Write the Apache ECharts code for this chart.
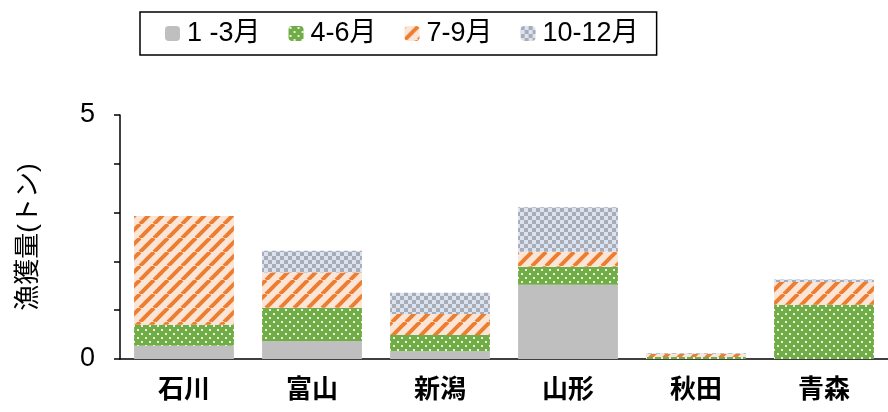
<!DOCTYPE html>
<html>
<head>
<meta charset="utf-8">
<script src="https://cdn.jsdelivr.net/npm/echarts@6/dist/echarts.min.js"></script>
<style>
  html, body { margin: 0; padding: 0; background: #fff; }
  #container { width: 888px; height: 412px; }
</style>
</head>
<body>
<div id="container"></div>
<script>
const categories = ['石川', '富山', '新潟', '山形', '秋田', '青森'];
const seriesNames = ['1 -3月', '4-6月', '7-9月', '10-12月'];
const q1 = [0.27, 0.37, 0.16, 1.52, 0.00, 0.00];
const q2 = [0.43, 0.68, 0.33, 0.37, 0.04, 1.11];
const q3 = [2.23, 0.72, 0.43, 0.31, 0.06, 0.47];
const q4 = [0.00, 0.45, 0.44, 0.91, 0.02, 0.05];
const yTickLabels = ['0', '5'];

const FONT = '"Liberation Sans", Arial, "Noto Sans CJK JP", sans-serif';

// パターン画像
function makeTile(w, h, draw) {
  const c = document.createElement('canvas');
  c.width = w; c.height = h;
  draw(c.getContext('2d'), w, h);
  return { image: c, repeat: 'repeat' };
}

const dotsGreen = makeTile(8, 8, (ctx, w, h) => {
  ctx.fillStyle = '#70AD47';
  ctx.fillRect(0, 0, w, h);
  ctx.fillStyle = '#e8f3df';
  ctx.fillRect(1, 1, 2, 2);
  ctx.fillRect(5, 5, 2, 2);
});

const stripeOrange = makeTile(14, 14, (ctx, w, h) => {
  ctx.fillStyle = '#FBE5D6';
  ctx.fillRect(0, 0, w, h);
  ctx.strokeStyle = '#ED7D31';
  ctx.lineWidth = 4;
  for (let k = -1; k <= 1; k++) {
    ctx.beginPath();
    ctx.moveTo(k * w, h);
    ctx.lineTo(k * w + w, 0);
    ctx.stroke();
  }
});

const checkBlue = makeTile(8, 8, (ctx, w, h) => {
  ctx.fillStyle = '#DAE3F3';
  ctx.fillRect(0, 0, w, h);
  ctx.fillStyle = '#A9ADB3';
  ctx.fillRect(0, 0, 4, 4);
  ctx.fillRect(4, 4, 4, 4);
});

const fills = ['#BFBFBF', dotsGreen, stripeOrange, checkBlue];
const dataSets = [q1, q2, q3, q4];

const chart = echarts.init(document.getElementById('container'));
chart.setOption({
  animation: false,
  textStyle: { fontFamily: FONT },
  legend: {
    top: 12,
    left: 140,
    data: seriesNames,
    itemWidth: 15,
    itemHeight: 15,
    itemGap: 28,
    padding: [8, 18, 8, 25],
    borderColor: '#000',
    borderWidth: 1.5,
    borderRadius: 0,
    textStyle: { fontSize: 27, color: '#000', fontFamily: FONT, padding: [0, 0, 0, 2] }
  },
  grid: { left: 120, top: 115, width: 775, bottom: 53 },
  xAxis: {
    type: 'category',
    data: categories,
    axisLine: { lineStyle: { color: '#000', width: 1.5 } },
    axisTick: { length: 6, lineStyle: { color: '#000', width: 1.5 } },
    axisLabel: { fontSize: 26, color: '#000', margin: 19, fontWeight: 'bold', fontFamily: FONT }
  },
  yAxis: {
    type: 'value',
    min: 0,
    max: 5,
    interval: 1,
    name: '漁獲量(トン)',
    nameLocation: 'middle',
    nameRotate: 90,
    nameGap: 78,
    nameTextStyle: { fontSize: 26, color: '#000', fontFamily: FONT },
    splitLine: { show: false },
    axisLine: { show: true, lineStyle: { color: '#000', width: 1.5 } },
    axisTick: { show: true, length: 6, lineStyle: { color: '#000', width: 1.5 } },
    axisLabel: {
      fontSize: 27, color: '#000', margin: 25, fontFamily: FONT,
      formatter: v => (yTickLabels.includes(String(v)) ? String(v) : '')
    }
  },
  series: seriesNames.map((name, i) => ({
    name: name,
    type: 'bar',
    stack: 'total',
    barCategoryGap: '22%',
    data: dataSets[i],
    itemStyle: { color: fills[i] }
  }))
});
</script>
</body>
</html>
